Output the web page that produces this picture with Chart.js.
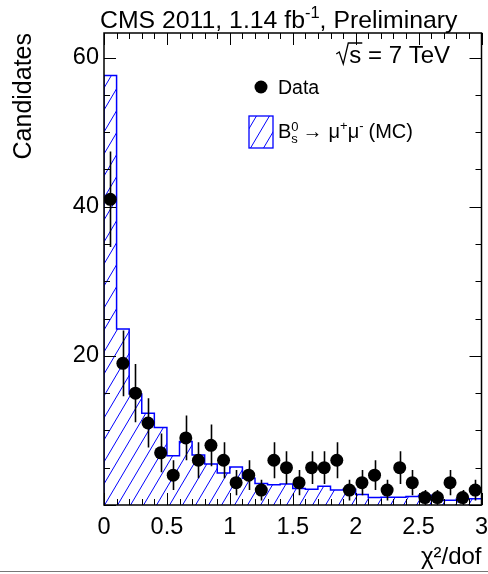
<!DOCTYPE html>
<html>
<head>
<meta charset="utf-8">
<script src="https://cdn.jsdelivr.net/npm/chart.js@4.4.0/dist/chart.umd.min.js"></script>
<style>
  html, body { margin: 0; padding: 0; background: #fff; }
  canvas { display: block; }
</style>
</head>
<body>
<canvas id="chi2Chart" width="488" height="574"></canvas>
<script>
// chi2/dof bins, width 0.1
const binCenters = [0.05, 0.15, 0.25, 0.35, 0.45, 0.55, 0.65, 0.75, 0.85, 0.95,
                    1.05, 1.15, 1.25, 1.35, 1.45, 1.55, 1.65, 1.75, 1.85, 1.95,
                    2.05, 2.15, 2.25, 2.35, 2.45, 2.55, 2.65, 2.75, 2.85, 2.95];
const binWidth = 0.1;

// Bs -> mu mu MC (normalised)
const mcValues = [57.6, 23.6, 14.9, 12.3, 10.4, 6.6, 8.5, 6.7, 5.5, 4.3,
                  5.1, 3.6, 2.9, 2.7, 2.8, 2.2, 2.1, 2.5, 2.0, 2.1,
                  1.4, 1.0, 1.05, 1.05, 1.15, 1.3, 0.6, 0.65, 0.8, 0.85];

// data candidates and their errors
const dataCounts = [41, 19, 15, 11, 7, 4, 9, 6, 8, 6,
                    3, 4, 2, 6, 5, 3, 5, 5, 6, 2,
                    3, 4, 2, 5, 3, 1, 1, 3, 1, 2];
const dataErrors = [6.4, 4.4, 3.9, 3.3, 2.6, 2.0, 3.0, 2.4, 2.8, 2.4,
                    1.7, 2.0, 1.4, 2.4, 2.2, 1.7, 2.2, 2.2, 2.4, 1.4,
                    1.7, 2.0, 1.4, 2.2, 1.7, 1.0, 1.0, 1.7, 1.0, 1.4];

const xTickLabels = ['0', '0.5', '1', '1.5', '2', '2.5', '3'];
const yTickLabels = ['', '20', '40', '60'];

const FONT = "'Liberation Sans', Arial, Helvetica, sans-serif";
const BLUE = '#0000ff';

// --- hatch pattern (ROOT style 3004-ish) ---
function makeHatch() {
    const w = 13, h = 22;
    const tile = document.createElement('canvas');
    tile.width = w;
    tile.height = h;
    const c = tile.getContext('2d');
    c.strokeStyle = BLUE;
    c.lineWidth = 1;
    c.beginPath();
    c.moveTo(0, h); c.lineTo(w, 0);
    c.moveTo(-w, h); c.lineTo(0, 0);
    c.moveTo(w, h); c.lineTo(2 * w, 0);
    c.stroke();
    return c.createPattern(tile, 'repeat');
}

const canvas = document.getElementById('chi2Chart');
const ctx = canvas.getContext('2d');
const hatch = makeHatch();

// step outline points at the bin edges
const last = binCenters.length - 1;
const mcSteps = [{ x: binCenters[0] - binWidth / 2, y: 0 }];
binCenters.forEach((c, i) => mcSteps.push({ x: c - binWidth / 2, y: mcValues[i] }));
mcSteps.push({ x: binCenters[last] + binWidth / 2, y: mcValues[last] });

const dataPoints = binCenters.map((c, i) => ({ x: c, y: dataCounts[i] }));

// --- error bars, drawn just under the data markers ---
const errorBars = {
    id: 'errorBars',
    beforeDatasetDraw(chart, args) {
        if (args.index !== 0) return;
        const { x, y } = chart.scales;
        const g = chart.ctx;
        g.save();
        g.strokeStyle = '#000';
        g.lineWidth = 1.6;
        g.beginPath();
        binCenters.forEach((c, i) => {
            const px = Math.round(x.getPixelForValue(c)) + 0.5;
            g.moveTo(px, y.getPixelForValue(dataCounts[i] + dataErrors[i]));
            g.lineTo(px, y.getPixelForValue(Math.max(0, dataCounts[i] - dataErrors[i])));
        });
        g.stroke();
        g.restore();
    }
};

// --- frame, inward ticks, title text, legend ---
const decorations = {
    id: 'decorations',
    afterDatasetsDraw(chart) {
        const g = chart.ctx;
        const { left, right, top, bottom } = chart.chartArea;
        const { x, y } = chart.scales;
        g.save();

        // frame
        g.strokeStyle = '#000';
        g.lineWidth = 1.5;
        g.strokeRect(left, top, right - left, bottom - top);

        // x ticks, bottom and top
        g.lineWidth = 1;
        g.beginPath();
        for (let k = 0; k <= 30; k++) {
            const px = Math.round(x.getPixelForValue(k / 10)) + 0.5;
            const len = k % 5 === 0 ? 12 : 6;
            g.moveTo(px, bottom); g.lineTo(px, bottom - len);
            g.moveTo(px, top); g.lineTo(px, top + len);
        }
        // y ticks, left and right
        for (let v = 0; v <= 60; v += 5) {
            const py = Math.round(y.getPixelForValue(v)) + 0.5;
            const len = v % 20 === 0 ? 12 : 6;
            g.moveTo(left, py); g.lineTo(left + len, py);
            g.moveTo(right, py); g.lineTo(right - len, py);
        }
        g.stroke();

        g.fillStyle = '#000';
        g.textBaseline = 'alphabetic';
        g.textAlign = 'left';

        // header: CMS 2011, 1.14 fb^-1, Preliminary
        let tx = 100;
        g.font = '24.8px ' + FONT;
        g.fillText('CMS 2011, 1.14 fb', tx, 28);
        tx += g.measureText('CMS 2011, 1.14 fb').width;
        g.font = '16.5px ' + FONT;
        g.fillText('-1', tx, 18);
        tx += g.measureText('-1').width;
        g.font = '24.8px ' + FONT;
        g.fillText(', Preliminary', tx, 28);

        // sqrt(s) = 7 TeV
        g.font = '24px ' + FONT;
        const rest = 's = 7 TeV';
        const sx = 450 - g.measureText(rest).width;
        g.fillText(rest, sx, 63);
        const sw = g.measureText('s').width;
        g.lineWidth = 1.3;
        g.beginPath();
        g.moveTo(sx - 13, 54);
        g.lineTo(sx - 10, 52);
        g.lineTo(sx - 6, 64);
        g.lineTo(sx - 1, 43);
        g.lineTo(sx + sw + 1, 43);
        g.stroke();

        // legend: Data
        g.beginPath();
        g.arc(261, 87, 6.5, 0, Math.PI * 2);
        g.fill();
        g.font = '19.5px ' + FONT;
        g.fillText('Data', 278, 94);

        // legend: MC box
        g.fillStyle = hatch;
        g.fillRect(249, 116, 24, 32);
        g.strokeStyle = BLUE;
        g.lineWidth = 1.3;
        g.strokeRect(249, 116, 24, 32);

        g.fillStyle = '#000';
        let lx = 278;
        g.font = '20px ' + FONT;
        g.fillText('B', lx, 138);
        lx += g.measureText('B').width;
        g.font = '13px ' + FONT;
        g.fillText('0', lx, 131);
        g.fillText('s', lx, 143);
        lx += g.measureText('0').width + 4;
        g.font = '20px ' + FONT;
        g.fillText('\u2192', lx, 138);
        lx += g.measureText('\u2192').width + 6;
        g.fillText('\u03bc', lx, 138);
        lx += g.measureText('\u03bc').width;
        g.font = '13px ' + FONT;
        g.fillText('+', lx, 130);
        lx += g.measureText('+').width;
        g.font = '20px ' + FONT;
        g.fillText('\u03bc', lx, 138);
        lx += g.measureText('\u03bc').width;
        g.font = '13px ' + FONT;
        g.fillText('-', lx, 130);
        lx += g.measureText('-').width + 5;
        g.font = '20px ' + FONT;
        g.fillText('(MC)', lx, 138);

        // pad border line at the bottom
        g.strokeStyle = '#777';
        g.lineWidth = 1;
        g.beginPath();
        g.moveTo(0, 571.5); g.lineTo(488, 571.5);
        g.stroke();

        g.restore();
    }
};

const whiteBg = {
    id: 'whiteBg',
    beforeDraw(chart) {
        const g = chart.ctx;
        g.save();
        g.fillStyle = '#fff';
        g.fillRect(0, 0, chart.width, chart.height);
        g.restore();
    }
};

new Chart(ctx, {
    type: 'scatter',
    data: {
        datasets: [
            {
                label: 'Data',
                data: dataPoints,
                backgroundColor: '#000',
                borderWidth: 0,
                pointRadius: 6.5,
                pointHoverRadius: 6.5
            },
            {
                type: 'line',
                label: 'Bs -> mu+ mu- (MC)',
                data: mcSteps,
                stepped: true,
                fill: 'origin',
                backgroundColor: hatch,
                borderColor: BLUE,
                borderWidth: 1.5,
                pointRadius: 0,
                tension: 0
            }
        ]
    },
    options: {
        responsive: false,
        animation: false,
        layout: { padding: { top: 33, right: 3, left: 0, bottom: 0 } },
        plugins: {
            legend: { display: false },
            tooltip: { enabled: false }
        },
        scales: {
            x: {
                type: 'linear',
                min: 0,
                max: 3,
                grid: { display: false, drawTicks: false },
                border: { display: false },
                ticks: {
                    stepSize: 0.5,
                    includeBounds: false,
                    autoSkip: false,
                    maxRotation: 0,
                    padding: 8,
                    color: '#000',
                    font: { family: FONT, size: 23.5 },
                    callback: (v, i) => xTickLabels[i]
                },
                title: {
                    display: true,
                    text: '\u03c7\u00b2/dof',
                    align: 'end',
                    color: '#000',
                    font: { family: FONT, size: 24 },
                    padding: { top: 0, bottom: 2 }
                },
                afterFit: (s) => { s.height = 69; s.paddingLeft = 0; s.paddingRight = 0; }
            },
            y: {
                min: 0,
                max: 63.3,
                grid: { display: false, drawTicks: false },
                border: { display: false },
                ticks: {
                    stepSize: 20,
                    includeBounds: false,
                    padding: 5,
                    color: '#000',
                    font: { family: FONT, size: 23.5 },
                    callback: (v, i) => yTickLabels[i]
                },
                title: {
                    display: true,
                    text: 'Candidates',
                    align: 'end',
                    color: '#000',
                    font: { family: FONT, size: 25 },
                    padding: { top: 9, bottom: 0 }
                },
                afterFit: (s) => { s.width = 104; }
            }
        }
    },
    plugins: [whiteBg, errorBars, decorations]
});
</script>
</body>
</html>
